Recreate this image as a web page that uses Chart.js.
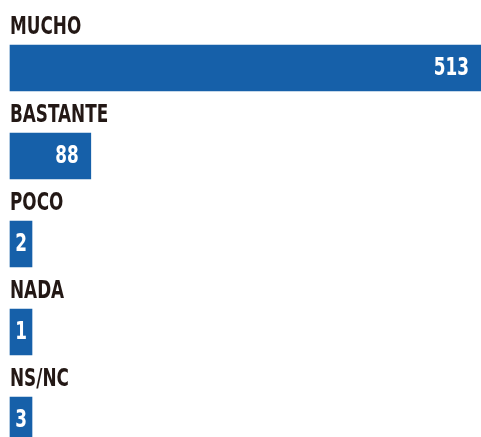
<!DOCTYPE html>
<html>
<head>
<meta charset="utf-8">
<script src="https://cdn.jsdelivr.net/npm/chart.js@4"></script>
<style>
  html, body { margin: 0; padding: 0; background: #fff; }
  #wrap { width: 481px; height: 437px; position: relative; }
</style>
</head>
<body>
<div id="wrap"><canvas id="chart"></canvas></div>
<script>
var categories = ["MUCHO", "BASTANTE", "POCO", "NADA", "NS/NC"];
var values = [513, 88, 2, 1, 3];

var barColor = "#1660a9";
var textColor = "#231815";
var fontFamily = "'DejaVu Sans Condensed', 'DejaVu Sans', sans-serif";
var squeeze = 0.78; // the print font is a narrow one

// category names above the bars and white numbers inside them
var barTexts = {
  id: "barTexts",
  afterDatasetsDraw: function (chart) {
    var ctx = chart.ctx;
    var meta = chart.getDatasetMeta(0);
    var yScale = chart.scales.y;
    ctx.save();
    ctx.font = "bold 24px " + fontFamily;
    ctx.textBaseline = "middle";
    meta.data.forEach(function (bar, i) {
      var yPos = yScale.getPixelForValue(i);
      // name
      ctx.save();
      ctx.fillStyle = textColor;
      ctx.textAlign = "left";
      ctx.translate(chart.chartArea.left, yPos - 40);
      ctx.scale(squeeze, 1);
      ctx.fillText(categories[i], 0, 0);
      ctx.restore();
      // value
      var w = bar.x - bar.base;
      var txt = String(values[i]);
      ctx.save();
      ctx.fillStyle = "#ffffff";
      if (w > 60) {
        ctx.textAlign = "right";
        ctx.translate(bar.x - 12, bar.y + 1);
      } else {
        ctx.textAlign = "center";
        ctx.translate((bar.x + bar.base) / 2, bar.y + 1);
      }
      ctx.scale(squeeze, 1);
      ctx.fillText(txt, 0, 0);
      ctx.restore();
    });
    ctx.restore();
  },
};

new Chart(document.getElementById("chart"), {
  type: "bar",
  data: {
    labels: categories,
    datasets: [
      {
        data: values,
        backgroundColor: barColor,
        borderWidth: 0,
        barThickness: 46,
        minBarLength: 22,
        clip: false,
      },
    ],
  },
  options: {
    indexAxis: "y",
    responsive: true,
    maintainAspectRatio: false,
    animation: false,
    layout: { padding: { left: 10, right: 0, top: 68, bottom: 17 } },
    plugins: {
      legend: { display: false },
      tooltip: { enabled: false },
    },
    scales: {
      x: {
        display: false,
        min: 0,
        max: 513,
      },
      y: {
        offset: false,
        grid: { display: false, drawTicks: false },
        border: { display: false },
        ticks: { display: false, padding: 0 },
      },
    },
  },
  plugins: [barTexts],
});
</script>
</body>
</html>
